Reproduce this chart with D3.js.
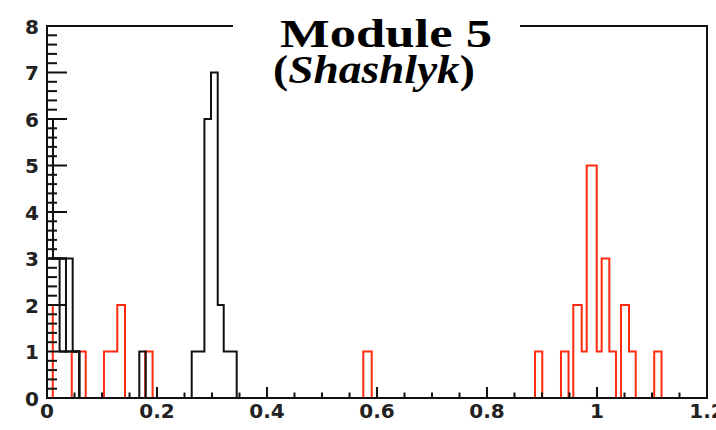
<!DOCTYPE html>
<html><head><meta charset="utf-8">
<script src="https://cdn.jsdelivr.net/npm/d3@7"></script>
<style>html,body{margin:0;padding:0;background:#fff;overflow:hidden}svg{display:block}</style>
</head><body><svg id="c" width="716" height="430"></svg>
<script>
// ---- data ----
const xMajorTicks = [0, 0.2, 0.4, 0.6, 0.8, 1.0, 1.2];
const xTickLabels = ["0", "0.2", "0.4", "0.6", "0.8", "1", "1.2"];
const xMinorStep = 0.05;
const yMajorTicks = [0, 1, 2, 3, 4, 5, 6, 7, 8];
const yTickLabels = ["0", "1", "2", "3", "4", "5", "6", "7", "8"];
const yMinorStep = 0.2;
// histogram bins: [low edge, high edge, entries]
const redBins = [
  [0.0000, 0.0105, 2],
  [0.0450, 0.0704, 1],
  [0.1036, 0.1278, 1],
  [0.1278, 0.1418, 2],
  [0.1785, 0.1920, 1],
  [0.5751, 0.5904, 1],
  [0.8873, 0.9005, 1],
  [0.9345, 0.9482, 1],
  [0.9569, 0.9722, 2],
  [0.9722, 0.9813, 1],
  [0.9813, 0.9995, 5],
  [0.9995, 1.0085, 1],
  [1.0085, 1.0224, 3],
  [1.0224, 1.0345, 1],
  [1.0436, 1.0582, 2],
  [1.0582, 1.0704, 1],
  [1.1040, 1.1173, 1]
];
const blackBins = [
  [0.0000, 0.0109, 6],
  [0.0109, 0.0467, 3],
  [0.0467, 0.0587, 1],
  [0.1678, 0.1795, 1],
  [0.2631, 0.2862, 1],
  [0.2862, 0.2982, 6],
  [0.2982, 0.3104, 7],
  [0.3104, 0.3213, 2],
  [0.3213, 0.3449, 1]
];
const blackBinsB = [
  [0.0000, 0.0229, 3],
  [0.0229, 0.0587, 1]
];
const blackBinsC = [
  [0.0000, 0.0345, 3],
  [0.0345, 0.0587, 1]
];
const titleLine1 = "Module 5";
const titleLine2 = ["(", "Shashlyk", ")"];

// ---- layout ----
const svg = d3.select("#c");
const x = d3.scaleLinear().domain([0, 1.2]).range([47, 707]);
const y = d3.scaleLinear().domain([0, 8]).range([398, 26]);

function histPath(bins) {
  const p = d3.path();
  let prevHi = null;
  bins.forEach((b) => {
    const [lo, hi, n] = b;
    if (prevHi === null) { p.moveTo(x(lo), y(0)); }
    else if (lo > prevHi + 1e-6) { p.lineTo(x(prevHi), y(0)); p.moveTo(x(lo), y(0)); }
    p.lineTo(x(lo), y(n));
    p.lineTo(x(hi), y(n));
    prevHi = hi;
  });
  p.lineTo(x(prevHi), y(0));
  return p.toString();
}

const g = svg.append("g");
g.append("path").attr("d", histPath(redBins))
  .attr("fill", "none").attr("stroke", "#ff2a10").attr("stroke-width", 2).attr("stroke-linejoin", "miter");
[blackBinsB, blackBinsC, blackBins].forEach(bins => {
  g.append("path").attr("d", histPath(bins))
    .attr("fill", "none").attr("stroke", "#111").attr("stroke-width", 2).attr("stroke-linejoin", "miter");
});

// frame
const [x0, x1] = x.range();
const [yb, yt] = y.range();
svg.append("rect").attr("x", x0).attr("y", yt).attr("width", x1 - x0).attr("height", yb - yt)
  .attr("fill", "none").attr("stroke", "#111").attr("stroke-width", 2);

// x ticks
const xMinor = d3.range(0, 1.2 + 1e-9, xMinorStep);
svg.append("g").selectAll("line").data(xMinor).join("line")
  .attr("x1", d => x(d)).attr("x2", d => x(d))
  .attr("y1", yb).attr("y2", d => {
    const major = xMajorTicks.some(m => Math.abs(m - d) < 1e-6);
    return yb - (major ? 11 : 5.5);
  })
  .attr("stroke", "#111").attr("stroke-width", 2);
svg.append("g").selectAll("text").data(xMajorTicks).join("text")
  .attr("x", d => x(d)).attr("y", 418)
  .attr("text-anchor", "middle")
  .attr("font-family", "DejaVu Sans").attr("font-weight", "bold").attr("font-size", 20)
  .attr("fill", "#222")
  .text((d, i) => xTickLabels[i]);

// y ticks
const yMinor = d3.range(0, 8 + 1e-9, yMinorStep);
svg.append("g").selectAll("line").data(yMinor).join("line")
  .attr("y1", d => y(d)).attr("y2", d => y(d))
  .attr("x1", x0).attr("x2", d => {
    const major = yMajorTicks.some(m => Math.abs(m - d) < 1e-6);
    return x0 + (major ? 20 : 10);
  })
  .attr("stroke", "#111").attr("stroke-width", 2);
svg.append("g").selectAll("text").data(yMajorTicks).join("text")
  .attr("x", 39).attr("y", d => y(d) + 7.5)
  .attr("text-anchor", "end")
  .attr("font-family", "DejaVu Sans").attr("font-weight", "bold").attr("font-size", 20)
  .attr("fill", "#222")
  .text((d, i) => yTickLabels[i]);

// title box
svg.append("rect").attr("x", 233).attr("y", 4).attr("width", 287).attr("height", 44).attr("fill", "#fff");

// title: one text element, two lines, each stretched to the reference width
const title = svg.append("text")
  .attr("font-family", "Liberation Serif").attr("font-weight", "bold").attr("font-size", 39)
  .attr("fill", "#000");
title.append("tspan").attr("x", 280).attr("y", 46.5)
  .attr("textLength", 212).attr("lengthAdjust", "spacingAndGlyphs")
  .text(titleLine1);
const l2 = title.append("tspan").attr("x", 273).attr("y", 83)
  .attr("textLength", 202).attr("lengthAdjust", "spacingAndGlyphs");
titleLine2.forEach((s, i) => {
  l2.append("tspan").attr("font-style", i === 1 ? "italic" : "normal").text(s);
});
</script>
</body></html>
